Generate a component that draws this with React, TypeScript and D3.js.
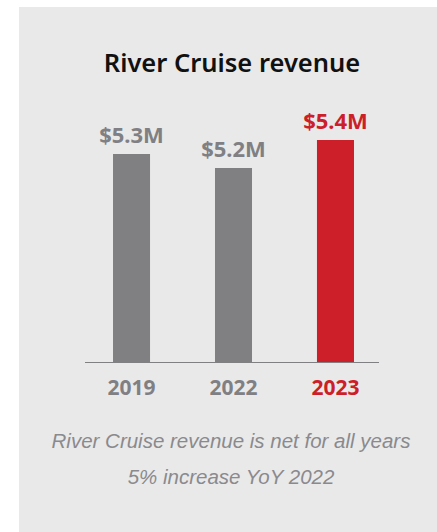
import React from "react";
import * as d3 from "d3";

const categories = ["2019", "2022", "2023"];
const values = [5.3, 5.2, 5.4];
const valueLabels = ["$5.3M", "$5.2M", "$5.4M"];
const highlight = [false, false, true];
const title = "River Cruise revenue";
const notes = ["River Cruise revenue is net for all years", "5% increase YoY 2022"];

const W = 437;
const H = 532;
const GRAY = "#808084";
const RED = "#cc1f29";
const FONT = "'Noto Sans', sans-serif";
const NOTE_FONT = "'Liberation Sans', sans-serif";

export default function App() {
  const x = d3.scaleBand<string>().domain(categories).range([86.5, 380.5]).paddingInner(0.637).paddingOuter(0.26);
  const y = d3.scaleLinear().domain([3.814, 5.4]).range([362, 140]);
  return (
    <svg width={W} height={H} style={{ position: "absolute", left: 0, top: 0, background: "#fff" }}>
      <rect x={19} y={7} width={W - 19} height={H - 7} fill="#e9e9e9" />
      <text x={232} y={72} textAnchor="middle" fontFamily={FONT} fontWeight={600} fontSize={25.5} fill="#111">
        {title}
      </text>
      {categories.map((c, i) => {
        const col = highlight[i] ? RED : GRAY;
        const bx = x(c)!;
        const cx = bx + x.bandwidth() / 2;
        return (
          <g key={c}>
            <rect x={bx} y={y(values[i])} width={x.bandwidth()} height={362 - y(values[i])} fill={highlight[i] ? RED : "#808083"} />
            <text x={cx} y={y(values[i]) - 11} textAnchor="middle" fontFamily={FONT} fontWeight={700} fontSize={22} fill={col}>
              {valueLabels[i]}
            </text>
            <text x={cx} y={395} textAnchor="middle" fontFamily={FONT} fontWeight={700} fontSize={21} fill={col}>
              {c}
            </text>
          </g>
        );
      })}
      <line x1={85} x2={379} y1={362.5} y2={362.5} stroke="#808083" strokeWidth={1} />
      {notes.map((n, i) => (
        <text key={i} x={231} y={448 + i * 36} textAnchor="middle" fontFamily={NOTE_FONT} fontStyle="italic" fontWeight={400} fontSize={20.5} fill="#8a8a8e">
          {n}
        </text>
      ))}
    </svg>
  );
}
